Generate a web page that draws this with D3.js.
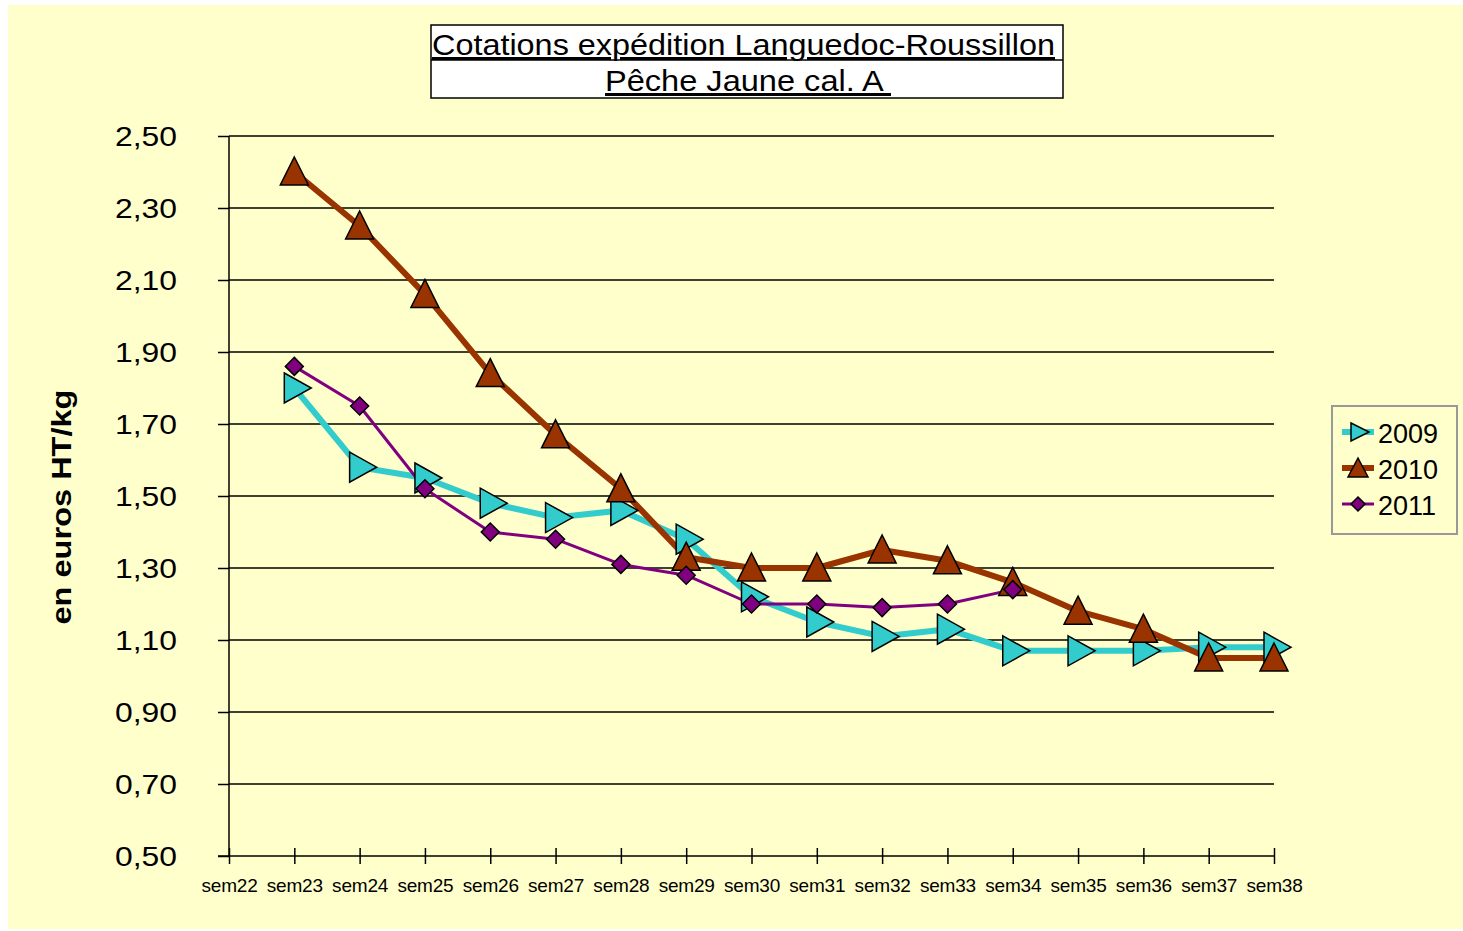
<!DOCTYPE html>
<html>
<head>
<meta charset="utf-8">
<script src="https://cdn.jsdelivr.net/npm/d3@7"></script>
<style>
  body { margin: 0; background: #fff; }
  svg { display: block; font-family: "Liberation Sans", Arial, sans-serif; }
</style>
</head>
<body>
<svg width="1463" height="931"></svg>
<script>
// semaines
var weeks = ["sem22","sem23","sem24","sem25","sem26","sem27","sem28","sem29","sem30",
             "sem31","sem32","sem33","sem34","sem35","sem36","sem37","sem38"];
var yTicks = [0.5, 0.7, 0.9, 1.1, 1.3, 1.5, 1.7, 1.9, 2.1, 2.3, 2.5];

// cotations (null = pas de valeur)
var v2009 = [null, 1.80, 1.58, 1.55, 1.48, 1.44, 1.46, 1.38, 1.22, 1.15, 1.11, 1.13, 1.07, 1.07, 1.07, 1.08, 1.08];
var v2010 = [null, 2.40, 2.25, 2.06, 1.84, 1.67, 1.52, 1.33, 1.30, 1.30, 1.35, 1.32, 1.26, 1.18, 1.13, 1.05, 1.05];
var v2011 = [null, 1.86, 1.75, 1.52, 1.40, 1.38, 1.31, 1.28, 1.20, 1.20, 1.19, 1.20, 1.24, null, null, null, null];

var series = [
  {name: "2009", values: v2009, color: "#33CCCC", width: 6, marker: "right"},
  {name: "2010", values: v2010, color: "#993300", width: 6, marker: "up"},
  {name: "2011", values: v2011, color: "#800080", width: 3, marker: "diamond"}
];

var svg = d3.select("svg");

// fond
svg.append("rect").attr("x", 8).attr("y", 5).attr("width", 1455).attr("height", 924).attr("fill", "#FFFFCC");

var plotLeft = 229, plotRight = 1274, plotTop = 136, plotBottom = 856;

var x = d3.scalePoint().domain(weeks).range([plotLeft, plotRight]);
var y = d3.scaleLinear().domain([0.5, 2.5]).range([plotBottom, plotTop]);

var fmt = function(d) { return d3.format(".2f")(d).replace(".", ","); };

// grille
svg.append("g").selectAll("line")
  .data(yTicks.slice(1))
  .enter().append("line")
  .attr("x1", plotLeft).attr("x2", plotRight)
  .attr("y1", function(d) { return y(d); }).attr("y2", function(d) { return y(d); })
  .attr("stroke", "#000").attr("stroke-width", 1.5);

// axe Y
var gy = svg.append("g").attr("transform", "translate(" + plotLeft + ",0)")
  .call(d3.axisLeft(y).tickValues(yTicks).tickSize(11).tickFormat(fmt));
gy.select(".domain").remove();
gy.selectAll(".tick line").attr("stroke", "#000").attr("stroke-width", 1.5);
gy.selectAll(".tick text").attr("font-size", 27).attr("fill", "#000").attr("x", -52).attr("dy", "0.36em")
  .attr("textLength", 62).attr("lengthAdjust", "spacingAndGlyphs")
  .attr("font-family", "Liberation Sans, Arial, sans-serif");

svg.append("line").attr("x1", plotLeft).attr("x2", plotLeft).attr("y1", plotTop).attr("y2", plotBottom)
  .attr("stroke", "#000").attr("stroke-width", 1.5);

// axe X
var gx = svg.append("g").attr("transform", "translate(0," + plotBottom + ")")
  .call(d3.axisBottom(x).tickSize(8).tickSizeOuter(0));
gx.select(".domain").attr("d", "M" + (plotLeft - 11) + ",0H" + plotRight).attr("stroke", "#000").attr("stroke-width", 1.5);
gx.selectAll(".tick line").attr("stroke", "#000").attr("stroke-width", 1.5).attr("y1", -8);
gx.selectAll(".tick text").attr("font-size", 19).attr("fill", "#000").attr("y", 23)
  .attr("letter-spacing", -0.2).attr("font-family", "Liberation Sans, Arial, sans-serif");

// titre axe Y
svg.append("text")
  .attr("transform", "translate(71,507) rotate(-90)")
  .attr("text-anchor", "middle")
  .attr("font-size", 28).attr("font-weight", "bold")
  .attr("textLength", 235).attr("lengthAdjust", "spacingAndGlyphs")
  .text("en euros HT/kg");

// titre
var tb = svg.append("g");
tb.append("rect").attr("x", 431).attr("y", 25).attr("width", 632).attr("height", 73)
  .attr("fill", "#fff").attr("stroke", "#000").attr("stroke-width", 1.5);
tb.append("line").attr("x1", 431).attr("x2", 1063).attr("y1", 60).attr("y2", 60)
  .attr("stroke", "#000").attr("stroke-width", 1.5);
tb.append("text").attr("x", 432).attr("y", 55)
  .attr("font-size", 30).attr("text-decoration", "underline")
  .attr("textLength", 623).attr("lengthAdjust", "spacingAndGlyphs")
  .text("Cotations expédition Languedoc-Roussillon");
tb.append("text").attr("x", 605).attr("y", 91)
  .attr("font-size", 30).attr("text-decoration", "underline")
  .attr("xml:space", "preserve")
  .attr("textLength", 286).attr("lengthAdjust", "spacingAndGlyphs")
  .text("Pêche Jaune cal. A ");

// symboles
function markerPath(type) {
  if (type === "up") return "M0,-15L14,13L-14,13Z";
  if (type === "right") return "M-10,-15L17,0L-10,15Z";
  return "M0,-9L9,0L0,9L-9,0Z";
}

var line = d3.line()
  .defined(function(d) { return d.v != null; })
  .x(function(d) { return x(d.w); })
  .y(function(d) { return y(d.v); });

series.forEach(function(s) {
  var pts = weeks.map(function(w, i) { return {w: w, v: s.values[i]}; });
  svg.append("path").datum(pts)
    .attr("d", line)
    .attr("fill", "none").attr("stroke", s.color).attr("stroke-width", s.width)
    .attr("stroke-linejoin", "round");
});
series.forEach(function(s) {
  var pts = weeks.map(function(w, i) { return {w: w, v: s.values[i]}; })
    .filter(function(d) { return d.v != null; });
  svg.append("g").selectAll("path")
    .data(pts).enter().append("path")
    .attr("transform", function(d) { return "translate(" + x(d.w) + "," + y(d.v) + ")"; })
    .attr("d", markerPath(s.marker))
    .attr("fill", s.color).attr("stroke", "#000").attr("stroke-width", 1.5);
});

// légende
var lg = svg.append("g");
lg.append("rect").attr("x", 1332).attr("y", 406).attr("width", 125).attr("height", 128)
  .attr("fill", "none").attr("stroke", "#999").attr("stroke-width", 2);
var li = lg.selectAll("g.item").data(series).enter().append("g")
  .attr("class", "item")
  .attr("transform", function(d, i) { return "translate(1358," + (432 + i * 36) + ")"; });
li.append("line").attr("x1", -16).attr("x2", 16).attr("y1", 0).attr("y2", 0)
  .attr("stroke", function(d) { return d.color; })
  .attr("stroke-width", function(d) { return d.width; });
li.append("path")
  .attr("d", function(d) {
    if (d.marker === "up") return "M0,-10L10,9L-10,9Z";
    if (d.marker === "right") return "M-7,-9L11,0L-7,9Z";
    return "M0,-7L7,0L0,7L-7,0Z";
  })
  .attr("fill", function(d) { return d.color; }).attr("stroke", "#000").attr("stroke-width", 1.5);
li.append("text").attr("x", 20).attr("dy", "0.4em").attr("font-size", 27)
  .text(function(d) { return d.name; });
</script>
</body>
</html>
